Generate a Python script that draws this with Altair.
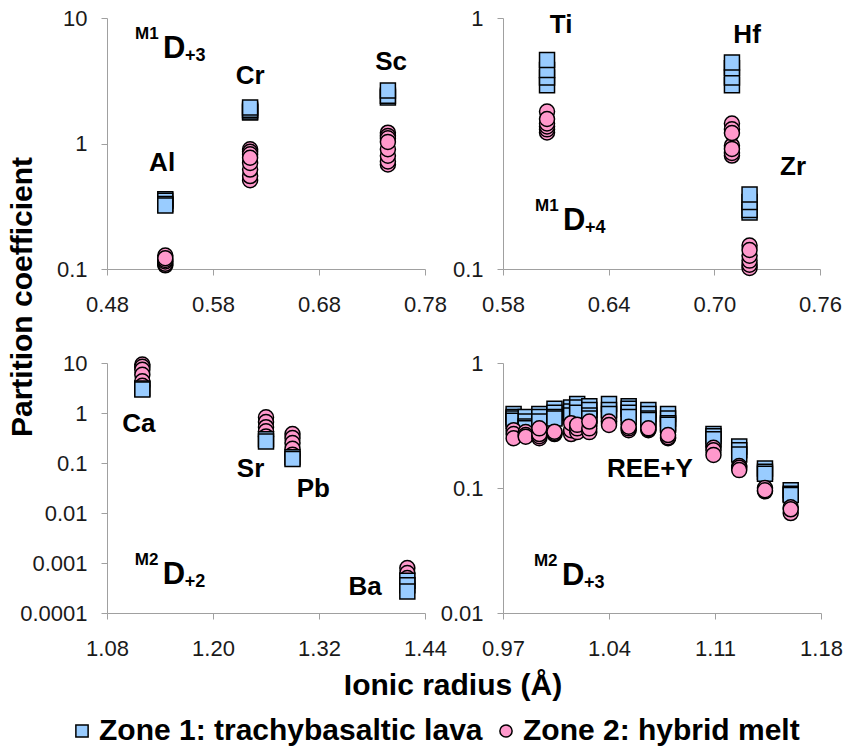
import altair as alt
import pandas as pd

FONT = "Liberation Sans, Arial, Helvetica, sans-serif"

ZONES = ["Zone 1: trachybasaltic lava", "Zone 2: hybrid melt"]
FILLS = ["#99ccff", "#ff99cc"]
STROKES = ["black", "black"]
SHAPES = ["square", "circle"]

# ---------------- Panel A : M1 site, 3+ cations ----------------
a_elements = ["Al", "Cr", "Sc"]
a_radius = [0.535, 0.615, 0.745]
a_zone1 = [[0.36, 0.35, 0.33, 0.32],
           [1.77, 1.80, 1.86, 1.94],
           [2.33, 2.40, 2.64]]
a_zone2 = [[0.128, 0.107, 0.110, 0.115, 0.118, 0.122],
           [0.90, 0.86, 0.51, 0.55, 0.62, 0.70, 0.82, 0.77],
           [1.22, 1.15, 0.68, 0.72, 0.80, 0.90, 1.10, 1.03]]
a_label_x = [0.532, 0.615, 0.748]
a_label_y = [0.70, 3.45, 4.46]
a_xticks = [0.48, 0.58, 0.68, 0.78]
a_yticks = [0.1, 1, 10]

# ---------------- Panel B : M1 site, 4+ cations ----------------
b_elements = ["Ti", "Hf", "Zr"]
b_radius = [0.605, 0.71, 0.72]
b_zone1 = [[0.54, 0.58, 0.62, 0.68],
           [0.54, 0.58, 0.63, 0.665],
           [0.168, 0.172, 0.185, 0.198]]
b_zone2 = [[0.424, 0.35, 0.36, 0.37, 0.38, 0.396],
           [0.38, 0.36, 0.283, 0.29, 0.31, 0.348, 0.301],
           [0.124, 0.101, 0.104, 0.108, 0.113, 0.119]]
b_label_x = [0.613, 0.7186, 0.7447]
b_label_y = [0.938, 0.856, 0.255]
b_xticks = [0.58, 0.64, 0.70, 0.76]
b_yticks = [0.1, 1]

# ---------------- Panel C : M2 site, 2+ cations ----------------
c_elements = ["Ca", "Sr", "Pb", "Ba"]
c_radius = [1.12, 1.26, 1.29, 1.42]
c_zone1 = [[3.1, 2.95],
           [0.30, 0.27],
           [0.13, 0.12],
           [0.00044, 0.00036, 0.00027]]
c_zone2 = [[9.3, 8.4, 7.3, 5.8, 4.3, 3.5],
           [0.82, 0.66, 0.52, 0.43, 0.34],
           [0.38, 0.316, 0.25, 0.193, 0.147],
           [0.00079, 0.00063, 0.0005, 0.0004]]
c_label_x = [1.116, 1.2425, 1.3136, 1.3723]
c_label_y = [0.60, 0.076, 0.030, 0.00033]
c_xticks = [1.08, 1.20, 1.32, 1.44]
c_yticks = [0.0001, 0.001, 0.01, 0.1, 1, 10]

# ---------------- Panel D : M2 site, REE + Y ----------------
d_elements = ["Lu", "Yb", "Tm", "Er", "Ho", "Y", "Dy", "Tb",
              "Gd", "Eu", "Sm", "Nd", "Pr", "Ce", "La"]
d_radius = [0.977, 0.985, 0.994, 1.004, 1.015, 1.019, 1.027, 1.040,
            1.053, 1.066, 1.079, 1.109, 1.126, 1.143, 1.160]
d_zone1 = [[0.39, 0.37, 0.36, 0.345],
           [0.37, 0.34, 0.31, 0.30],
           [0.39, 0.37, 0.34],
           [0.43, 0.40, 0.37, 0.36],
           [0.44, 0.41, 0.38],
           [0.47, 0.44, 0.40],
           [0.45, 0.42, 0.38, 0.36],
           [0.47, 0.42, 0.39],
           [0.45, 0.43, 0.40, 0.37],
           [0.42, 0.39, 0.36, 0.35],
           [0.39, 0.36, 0.33, 0.32],
           [0.27, 0.26, 0.245],
           [0.215, 0.20, 0.185],
           [0.143, 0.135, 0.13],
           [0.096, 0.09, 0.088]]
d_zone2 = [[0.29, 0.27, 0.25],
           [0.28, 0.265, 0.257],
           [0.25, 0.26, 0.27, 0.30],
           [0.27, 0.275, 0.282],
           [0.27, 0.29, 0.33],
           [0.28, 0.30, 0.32],
           [0.28, 0.30, 0.34],
           [0.33, 0.34, 0.319],
           [0.29, 0.30, 0.309],
           [0.29, 0.295, 0.30],
           [0.25, 0.255, 0.265],
           [0.21, 0.20, 0.184],
           [0.15, 0.145, 0.139],
           [0.094, 0.10, 0.096],
           [0.063, 0.07, 0.0675]]
d_label_x = [1.067]
d_label_y = [0.142]
d_group_label = ["REE+Y"]
d_xticks = [0.97, 1.04, 1.11, 1.18]
d_yticks = [0.01, 0.1, 1]

# site labels: (site, main letter, charge) with anchor in data units
site_a = ("M1", "D", "+3", 0.5328, 5.66)
site_b = ("M1", "D", "+4", 0.6141, 0.155)
site_c = ("M2", "D", "+2", 1.1432, 0.00058)
site_d = ("M2", "D", "+3", 1.0089, 0.0197)

LEG = alt.Legend(
    orient="none", legendX=-40, legendY=698, direction="horizontal",
    title=None, labelFont=FONT, labelFontSize=30, labelFontWeight="bold",
    labelColor="black", labelLimit=500, labelOffset=2, columnPadding=8,
    symbolSize=150, symbolStrokeWidth=1.5,
    padding=0,
)


def long_table(radius, zone_values, zone):
    rows = []
    for r, vals in zip(radius, zone_values):
        for v in vals:
            rows.append({"r": r, "v": v, "zone": zone})
    return pd.DataFrame(rows)


def panel(radius, z1, z2, lab_x, lab_y, labels, xdom, xticks, ydom, yticks,
          width, height, site, squares_on_top=False, extra=None):
    xs = alt.Scale(domain=xdom, nice=False, zero=False)
    ys = alt.Scale(type="log", domain=ydom, nice=False)
    xa = alt.Axis(values=xticks, format=".2f", title=None)
    ya = alt.Axis(values=yticks, format="~g", title=None)

    def pts(df):
        return alt.Chart(df).mark_point(
            filled=True, size=225, opacity=1, fillOpacity=1, strokeOpacity=1,
            strokeWidth=1.5, clip=False,
        ).encode(
            x=alt.X("r:Q", scale=xs, axis=xa),
            y=alt.Y("v:Q", scale=ys, axis=ya),
            shape=alt.Shape("zone:N", scale=alt.Scale(domain=ZONES, range=SHAPES), legend=LEG),
            fill=alt.Fill("zone:N", scale=alt.Scale(domain=ZONES, range=FILLS), legend=LEG),
            stroke=alt.Stroke("zone:N", scale=alt.Scale(domain=ZONES, range=STROKES), legend=LEG),
        )

    p1 = pts(long_table(radius, z1, ZONES[0]))
    p2 = pts(long_table(radius, z2, ZONES[1]))
    layers = [p2, p1] if squares_on_top else [p1, p2]

    lab_df = pd.DataFrame({"r": lab_x, "v": lab_y, "t": labels})
    labs = alt.Chart(lab_df).mark_text(
        font=FONT, fontSize=26, fontWeight="bold", color="black",
        align="center", baseline="middle", clip=False,
    ).encode(x=alt.X("r:Q", scale=xs, axis=xa), y=alt.Y("v:Q", scale=ys, axis=ya), text="t:N")
    layers.append(labs)

    sup, main, sub, sx, sy = site
    sdf = pd.DataFrame({"r": [sx], "v": [sy], "sup": [sup], "main": [main], "sub": [sub]})
    base = alt.Chart(sdf)
    enc = dict(x=alt.X("r:Q", scale=xs, axis=xa), y=alt.Y("v:Q", scale=ys, axis=ya))
    layers.append(base.mark_text(font=FONT, fontSize=17, fontWeight="bold", color="black",
                                 align="left", baseline="middle", dx=-28, dy=-15, clip=False)
                  .encode(text="sup:N", **enc))
    layers.append(base.mark_text(font=FONT, fontSize=31, fontWeight="bold", color="black",
                                 align="left", baseline="middle", dx=0, dy=0, clip=False)
                  .encode(text="main:N", **enc))
    layers.append(base.mark_text(font=FONT, fontSize=18, fontWeight="bold", color="black",
                                 align="left", baseline="middle", dx=22, dy=7, clip=False)
                  .encode(text="sub:N", **enc))
    if extra:
        layers.extend(extra)
    return alt.layer(*layers).properties(width=width, height=height)


one = pd.DataFrame({"k": [0]})
# invisible anchor fixing the page origin, plus the shared axis titles
anchor = alt.Chart(one).mark_rule(strokeOpacity=0, clip=False).encode(
    x=alt.value(-107), x2=alt.value(-100), y=alt.value(-18), y2=alt.value(-18))
ytitle = alt.Chart(one).mark_text(
    font=FONT, fontSize=30, fontWeight="bold", color="black", angle=270,
    align="center", baseline="middle", clip=False,
).encode(x=alt.value(-84), y=alt.value(279), text=alt.value("Partition coefficient"))
xtitle = alt.Chart(one).mark_text(
    font=FONT, fontSize=30, fontWeight="bold", color="black",
    align="center", baseline="middle", clip=False,
).encode(x=alt.value(346), y=alt.value(323), text=alt.value("Ionic radius (Å)"))

pa = panel(a_radius, a_zone1, a_zone2, a_label_x, a_label_y, a_elements,
           [0.48, 0.78], a_xticks, [0.1, 10], a_yticks, 318, 251, site_a,
           extra=[anchor, ytitle])
pb = panel(b_radius, b_zone1, b_zone2, b_label_x, b_label_y, b_elements,
           [0.58, 0.76], b_xticks, [0.1, 1], b_yticks, 317, 251, site_b)
pc = panel(c_radius, c_zone1, c_zone2, c_label_x, c_label_y, c_elements,
           [1.08, 1.44], c_xticks, [0.0001, 10], c_yticks, 318, 250, site_c,
           squares_on_top=True, extra=[xtitle])
pd_ = panel(d_radius, d_zone1, d_zone2, d_label_x, d_label_y, d_group_label,
            [0.97, 1.18], d_xticks, [0.01, 1], d_yticks, 318, 250, site_d)

chart = alt.concat(pa, pb, pc, pd_, columns=2, spacing={"row": 94, "column": 78},
                   bounds="flush").properties(
    padding=0, background="white",
).configure_view(stroke=None).configure_axis(
    grid=False, domainColor="#a0a0a0", tickColor="#a0a0a0", domainWidth=1,
    tickWidth=1, tickSize=6, labelFont=FONT, labelFontSize=22,
    labelColor="#1a1a1a", labelFlush=False, labelOverlap=False,
).configure_axisX(labelPadding=19).configure_axisY(labelPadding=14)

chart.save("out.html", embed_options={"renderer": "svg", "actions": False})
